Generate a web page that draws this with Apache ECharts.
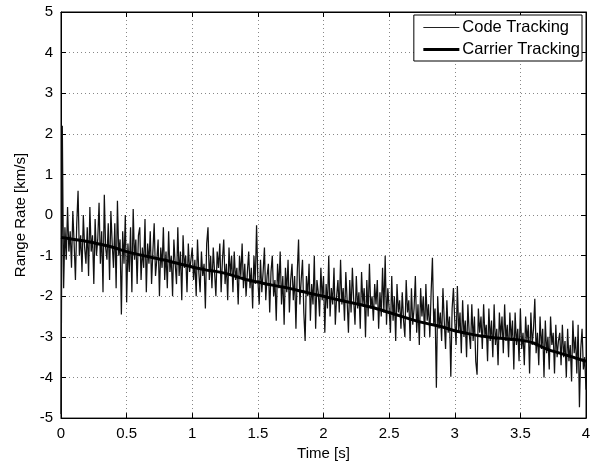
<!DOCTYPE html>
<html>
<head>
<meta charset="utf-8">
<script src="https://cdn.jsdelivr.net/npm/echarts@6/dist/echarts.min.js"></script>
<style>
  html, body { margin: 0; padding: 0; background: #fff; }
  #chart { width: 594px; height: 466px; }
</style>
</head>
<body>
<div id="chart"></div>
<script>
// 距离变化率 (Range Rate) 对比：码跟踪 vs 载波跟踪
const legendNames = ["Code Tracking", "Carrier Tracking"];
const xTicks = [0, 0.5, 1, 1.5, 2, 2.5, 3, 3.5, 4];
const yTicks = [-5, -4, -3, -2, -1, 0, 1, 2, 3, 4, 5];

// code tracking, one sample every 0.01 s (0 .. 4 s)
const codeStep = 0.01;
const codeTracking = [
  -4.9, 2.2, -1.8, -0.3, -1.1, 0.2, -0.9, -0.4, -1.3, 0.1, -0.7, -1.6, -0.2, 0.6, -1.0, -0.5, -1.4, 0.0, -0.8, -1.2,
  -0.3, -1.5, 0.2, -0.9, -0.5, -1.7, -0.1, -1.0, -0.6, 0.3, -1.2, -0.4, -1.9, 0.5, -0.8, -1.1, -0.2, -1.6, 0.1, -0.7,
  -1.3, -0.2, -1.8, 0.35, -1.0, -0.6, -2.45, -0.4, -1.2, 0.0, -2.15, -0.7, -1.4, -0.3, -1.9, 0.15, -1.1, -0.6, -1.7, -0.5,
  -0.3, -1.6, -0.8, -1.3, -0.1, -1.9, -0.7, -1.2, -0.4, -1.7, -0.9, -0.2, -1.5, -1.1, -0.6, -2.0, -0.8, -1.3, -0.3, -1.6,
  -0.9, -1.8, -0.4, -1.4, -1.0, -2.0, -0.6, -1.2, -1.7, -0.3, -1.5, -0.9, -2.1, -0.5, -1.3, -1.0, -1.9, -0.7, -1.4, -1.1,
  -0.8, -1.6, -1.1, -2.0, -0.6, -1.4, -1.9, -0.9, -1.5, -1.2, -2.3, -0.7, -0.3, -1.6, -1.0, -1.8, -0.8, -1.4, -2.0, -0.9,
  -1.3, -0.7, -1.9, -1.1, -0.6, -1.7, -1.2, -2.1, -0.8, -1.5, -1.0, -1.9, -0.9, -1.6, -1.3, -2.2, -1.0, -1.5, -0.7, -1.8,
  -1.2, -2.0, -1.4, -0.9, -1.8, -1.3, -2.3, -1.0, -1.7, -0.25, -1.6, -2.2, -1.1, -1.9, -1.4, -0.8, -2.1, -1.5, -1.2, -2.4,
  -1.4, -1.0, -2.0, -1.6, -2.6, -1.2, -1.8, -0.9, -2.2, -1.5, -2.7, -1.3, -1.9, -1.1, -2.4, -1.6, -1.2, -2.1, -1.5, -2.8,
  -1.4, -0.6, -2.2, -1.6, -1.1, -2.4, -3.1, -1.5, -2.0, -1.2, -2.6, -1.7, -2.2, -1.0, -2.8, -1.6, -1.9, -2.5, -1.3, -2.1,
  -1.5, -2.9, -1.7, -2.3, -1.0, -2.5, -1.8, -2.2, -1.3, -2.7, -2.0, -1.6, -2.4, -1.1, -2.2, -1.8, -2.6, -1.4, -2.1, -2.9,
  -1.6, -2.4, -1.3, -2.1, -2.7, -1.5, -2.3, -1.9, -2.8, -1.4, -2.2, -1.8, -3.0, -1.6, -2.5, -1.2, -2.3, -2.0, -2.6, -1.7,
  -2.2, -1.6, -2.8, -1.9, -2.5, -1.3, -2.4, -1.0, -2.7, -1.8, -2.3, -2.9, -1.5, -2.6, -2.0, -3.1, -1.7, -2.4, -2.1, -2.8,
  -1.9, -2.6, -3.0, -1.6, -2.4, -2.1, -3.1, -1.8, -2.7, -2.3, -1.5, -2.9, -2.2, -3.2, -1.8, -2.5, -2.0, -3.0, -1.7, -2.6,
  -2.2, -3.0, -1.9, -1.05, -2.7, -2.3, -4.25, -2.0, -2.8, -2.4, -3.1, -1.8, -2.6, -3.3, -2.1, -2.9, -2.5, -3.98, -2.3, -1.8,
  -2.6, -3.2, -1.75, -2.9, -2.4, -3.4, -2.1, -3.0, -2.6, -3.5, -2.2, -2.9, -3.3, -2.2, -3.1, -2.5, -3.6, -3.93, -2.3, -2.9,
  -2.5, -3.3, -2.2, -3.0, -2.7, -3.6, -2.3, -3.1, -2.6, -3.5, -2.2, -3.2, -2.8, -3.7, -2.4, -3.0, -2.5, -3.4, -2.2, -3.1,
  -2.7, -3.5, -2.4, -3.1, -2.6, -3.8, -2.4, -3.2, -2.8, -3.6, -2.3, -3.3, -2.9, -3.7, -2.5, -3.1, -2.7, -3.9, -2.4, -3.2,
  -2.8, -2.06, -3.4, -2.9, -3.7, -2.5, -3.3, -2.8, -4.0, -2.6, -3.4, -3.0, -3.8, -2.5, -3.2, -2.9, -3.9, -2.7, -3.5, -3.1,
  -2.9, -3.7, -2.7, -3.5, -3.1, -4.0, -2.8, -3.6, -3.2, -4.1, -2.6, -3.4, -3.0, -3.9, -2.7, -4.73, -3.3, -2.8, -3.8, -3.5,
  -4.3
];

// carrier tracking, one sample every 0.1 s
const carrierStep = 0.1;
const carrierTracking = [
  -0.55, -0.6, -0.65, -0.72, -0.8, -0.9, -0.98, -1.05, -1.12, -1.2,
  -1.28, -1.35, -1.4, -1.48, -1.58, -1.65, -1.72, -1.78, -1.85, -1.93,
  -2.0, -2.08, -2.15, -2.22, -2.3, -2.4, -2.5, -2.6, -2.68, -2.75,
  -2.85, -2.92, -2.98, -3.02, -3.05, -3.08, -3.15, -3.3, -3.4, -3.5,
  -3.6
];

const toPairs = (arr, step) => arr.map((v, i) => [+(i * step).toFixed(3), v]);

const font = "Liberation Sans, Arial, sans-serif";
const chart = echarts.init(document.getElementById("chart"));

const axisCommon = {
  axisLine: { onZero: false, lineStyle: { color: "#000", width: 1 } },
  axisTick: { inside: true, length: 5, lineStyle: { color: "#000" } },
  axisLabel: { color: "#000", fontSize: 15, fontFamily: font }
};

chart.setOption({
  animation: false,
  backgroundColor: "#fff",
  grid: { left: 61, right: 8, top: 12, bottom: 42, show: true, borderColor: "#000", borderWidth: 1 },
  legend: {
    data: [
      { name: legendNames[0], lineStyle: { color: "#222", width: 1 } },
      { name: legendNames[1], lineStyle: { color: "#000", width: 3 } }
    ],
    orient: "vertical",
    right: 12,
    top: 15,
    itemWidth: 36,
    itemHeight: 12,
    itemGap: 5,
    padding: [4, 2, 3, 8],
    backgroundColor: "#fff",
    borderColor: "#000",
    borderWidth: 1,
    borderRadius: 0,
    itemStyle: { opacity: 0 },
    textStyle: { color: "#000", fontSize: 16.5, fontFamily: font, padding: [0, 0, 0, -2] }
  },
  xAxis: [
    {
      type: "value", min: 0, max: 4, interval: 0.5,
      name: "Time [s]", nameLocation: "middle", nameGap: 26,
      nameTextStyle: { color: "#000", fontSize: 15, fontFamily: font },
      splitLine: { show: true, lineStyle: { color: "#888", type: [1, 3] } },
      ...axisCommon
    },
    {
      type: "value", min: 0, max: 4, interval: 0.5, position: "top",
      axisLine: { onZero: false, lineStyle: { color: "#000" } },
      axisTick: { inside: true, length: 5, lineStyle: { color: "#000" } },
      axisLabel: { show: false }, splitLine: { show: false }
    }
  ],
  yAxis: [
    {
      type: "value", min: -5, max: 5, interval: 1,
      name: "Range Rate [km/s]", nameLocation: "middle", nameGap: 31,
      nameTextStyle: { color: "#000", fontSize: 15, fontFamily: font },
      splitLine: { show: true, lineStyle: { color: "#888", type: [1, 3] } },
      ...axisCommon
    },
    {
      type: "value", min: -5, max: 5, interval: 1, position: "right",
      axisLine: { onZero: false, lineStyle: { color: "#000" } },
      axisTick: { inside: true, length: 5, lineStyle: { color: "#000" } },
      axisLabel: { show: false }, splitLine: { show: false }
    }
  ],
  series: [
    {
      name: legendNames[0],
      type: "line",
      symbol: "none",
      data: toPairs(codeTracking, codeStep),
      lineStyle: { color: "#111", width: 1.25 },
      itemStyle: { color: "#111" },
      z: 2
    },
    {
      name: legendNames[1],
      type: "line",
      symbol: "none",
      smooth: 0.3,
      data: toPairs(carrierTracking, carrierStep),
      lineStyle: { color: "#000", width: 3 },
      itemStyle: { color: "#000" },
      z: 3
    }
  ]
});
</script>
</body>
</html>
